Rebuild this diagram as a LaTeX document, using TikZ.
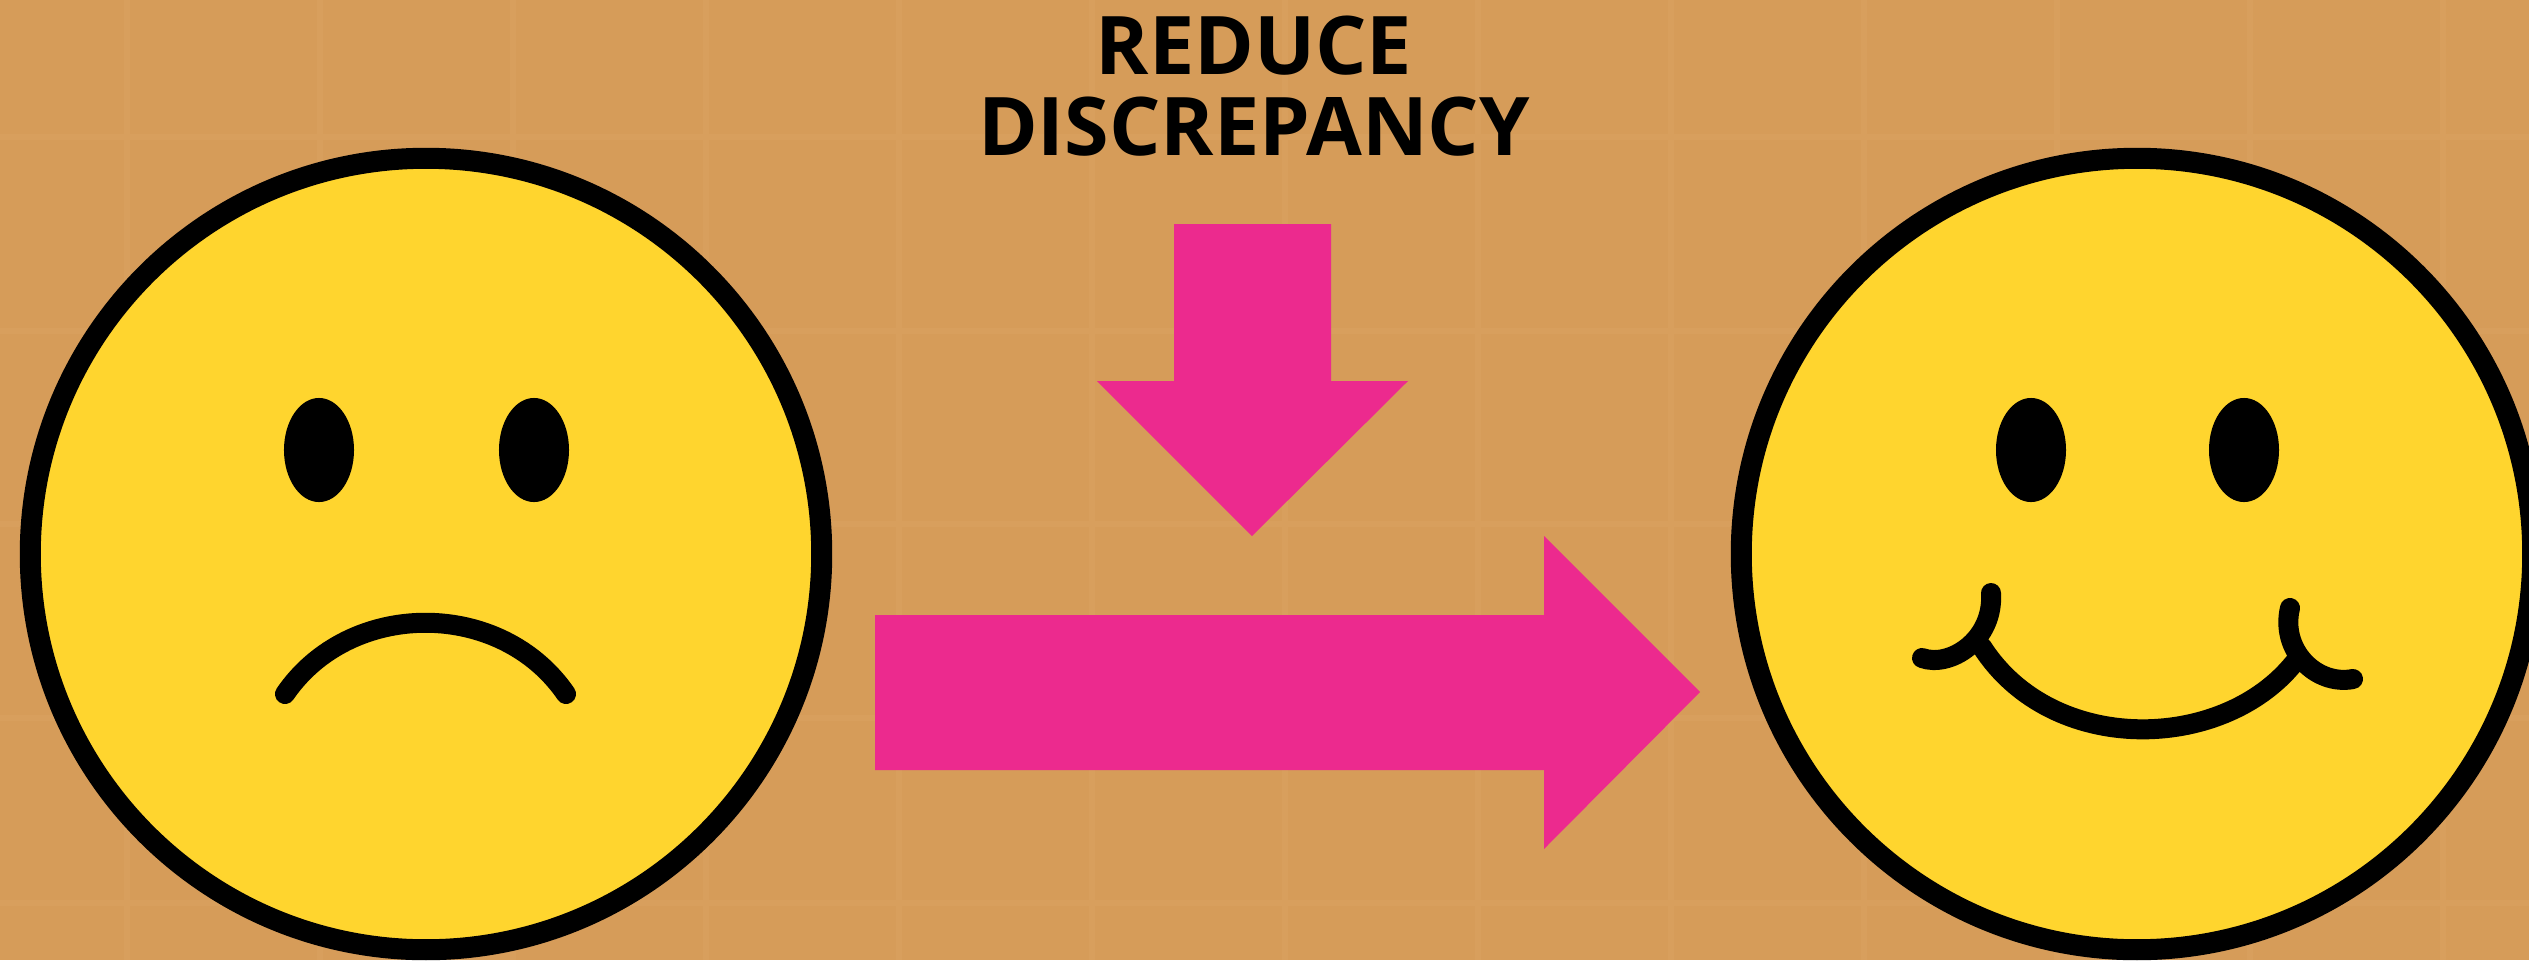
\documentclass[tikz,border=0pt]{standalone}
\usepackage{fontspec}
\setmainfont{Open Sans}
\usetikzlibrary{shapes.geometric}
\definecolor{tablebrown}{RGB}{214,156,89}
\definecolor{gridbrown}{RGB}{216,159,93}
\definecolor{faceyellow}{RGB}{255,213,46}
\definecolor{arrowpink}{RGB}{236,42,142}
\tikzset{
    % Face and eyes
    facenode/.style={
        circle, draw=black, fill=faceyellow,
        minimum size=7.91cm, inner sep=0pt, outer sep=0pt,
        line width=0.21cm
    },
    eyenode/.style={
        ellipse, fill=black,
        minimum width=0.7cm, minimum height=1.04cm, inner sep=0pt
    },
    % Mouth lines
    mouthline/.style={line width=0.2cm, line cap=round, black},
    % Big arrows
    bigarrow/.style={fill=arrowpink},
    gridline/.style={line width=0.06cm, gridbrown},
    titlenode/.style={
        align=center, inner sep=0pt,
        font=\fontsize{23}{22.76}\selectfont\bfseries
    }
}
\begin{document}
\begin{tikzpicture}[x=0.01cm,y=-0.01cm]
  \clip (0,0) rectangle (2529,960);
  \fill[tablebrown] (0,0) rectangle (2529,960);
  \foreach \gx in {127,320,513,706,899,1092,1285,1478,1671,1864,2057,2250,2443}
    \draw[gridline] (\gx,0) -- (\gx,960);
  \foreach \gy in {137,331,524,718,903}
    \draw[gridline] (0,\gy) -- (2529,\gy);
  % Sad face
  \node[facenode] (sadface) at (426,554) {};
  \node[eyenode] (sadeyeL) at (319,450) {};
  \node[eyenode] (sadeyeR) at (534,450) {};
  \coordinate (frownL) at (285,694);
  \coordinate (frownR) at (566,694);
  \draw[mouthline] (frownL) .. controls (350,599) and (501,599) .. (frownR);
  % Happy face
  \node[facenode] (happyface) at (2137,554) {};
  \node[eyenode] (happyeyeL) at (2031,450) {};
  \node[eyenode] (happyeyeR) at (2244,450) {};
  \coordinate (smileL) at (1982,647);
  \coordinate (smileR) at (2294,663);
  \coordinate (cheekLa) at (1922,658);
  \coordinate (cheekLb) at (1991,593);
  \coordinate (cheekRa) at (2290,608);
  \coordinate (cheekRb) at (2353,679);
  \draw[mouthline] (smileL) .. controls (2052,756) and (2222,752) .. (smileR);
  \draw[mouthline] (cheekLa) .. controls (1950,668) and (1994,640) .. (cheekLb);
  \draw[mouthline] (cheekRa) .. controls (2280,650) and (2316,686) .. (cheekRb);
  % Arrows
  \fill[bigarrow] (1174,224) -- (1331,224) -- (1331,381) -- (1408,381)
    -- (1252,536) -- (1097,381) -- (1174,381) -- cycle;
  \fill[bigarrow] (875,615) -- (1544,615) -- (1544,536) -- (1700,692)
    -- (1544,849) -- (1544,770) -- (875,770) -- cycle;
  \node[titlenode,anchor=base] (title) at (1254,155) {REDUCE\\DISCREPANCY};
\end{tikzpicture}
\end{document}
